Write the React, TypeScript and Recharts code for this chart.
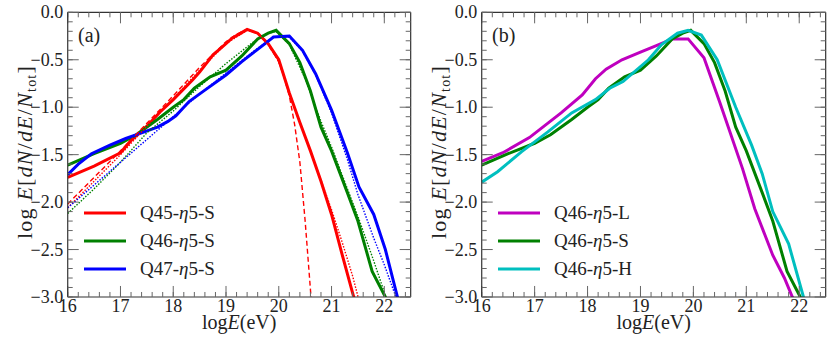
import React from 'react';
import { LineChart, Line, XAxis, YAxis, Legend } from 'recharts';

type Pt = [number, number];

// ---- tick values ----
const xMajorTicks = [16, 17, 18, 19, 20, 21, 22];
const xMinorTicks = [16, 16.2, 16.4, 16.6, 16.8, 17, 17.2, 17.4, 17.6, 17.8, 18, 18.2, 18.4, 18.6, 18.8, 19, 19.2, 19.4, 19.6, 19.8, 20, 20.2, 20.4, 20.6, 20.8, 21, 21.2, 21.4, 21.6, 21.8, 22, 22.2, 22.4];
const yMajorTicks = [0, -0.5, -1, -1.5, -2, -2.5, -3];
const yMinorTicks = [0, -0.1, -0.2, -0.3, -0.4, -0.5, -0.6, -0.7, -0.8, -0.9, -1, -1.1, -1.2, -1.3, -1.4, -1.5, -1.6, -1.7, -1.8, -1.9, -2, -2.1, -2.2, -2.3, -2.4, -2.5, -2.6, -2.7, -2.8, -2.9, -3];

// ---- panel (a) series ----
const q45S: Pt[] = [[16, -1.74], [16.5, -1.62], [17, -1.48], [17.2, -1.35], [17.5, -1.2], [17.75, -1.05], [18, -0.92], [18.37, -0.71], [18.5, -0.63], [18.75, -0.45], [19, -0.33], [19.12, -0.27], [19.25, -0.23], [19.4, -0.18], [19.6, -0.22], [19.8, -0.33], [20, -0.5], [20.2, -0.85], [20.4, -1.16], [20.6, -1.46], [20.8, -1.78], [21, -2.13], [21.2, -2.55], [21.4, -2.96], [21.5, -3.15]];
const q45Dash: Pt[] = [[16, -2.02], [16.5, -1.74], [17, -1.46], [17.5, -1.17], [18, -0.88], [18.5, -0.58], [19, -0.31], [19.2, -0.23], [19.4, -0.18], [19.6, -0.22], [19.8, -0.34], [20, -0.52], [20.1, -0.68], [20.2, -0.88], [20.3, -1.18], [20.4, -1.58], [20.5, -2.2], [20.6, -2.92], [20.63, -3.15]];
const q45Dot: Pt[] = [[16, -2.06], [16.5, -1.78], [17, -1.5], [17.5, -1.2], [18, -0.91], [18.5, -0.61], [19, -0.33], [19.4, -0.19], [19.6, -0.22], [19.8, -0.34], [20, -0.52], [20.2, -0.86], [20.6, -1.46], [21, -2.08], [21.2, -2.42], [21.4, -2.78], [21.55, -3.1]];
const q46S: Pt[] = [[16, -1.61], [16.5, -1.49], [17, -1.38], [17.3, -1.29], [17.7, -1.13], [18, -1.0], [18.2, -0.92], [18.4, -0.8], [18.7, -0.68], [19, -0.61], [19.3, -0.46], [19.6, -0.28], [19.8, -0.22], [19.95, -0.19], [20.2, -0.33], [20.4, -0.53], [20.6, -0.83], [20.8, -1.21], [21, -1.46], [21.3, -1.9], [21.5, -2.2], [21.77, -2.73], [22.02, -3.0], [22.1, -3.12]];
const q46Dot: Pt[] = [[16, -2.12], [16.5, -1.86], [17, -1.58], [17.5, -1.27], [18, -1.04], [18.5, -0.78], [19, -0.54], [19.5, -0.32], [19.8, -0.22], [19.95, -0.2], [20.2, -0.34], [20.5, -0.7], [20.8, -1.15], [21, -1.42], [21.3, -1.86], [21.5, -2.15], [21.8, -2.62], [22, -2.95], [22.05, -3.1]];
const q47S: Pt[] = [[16, -1.71], [16.2, -1.6], [16.45, -1.49], [16.8, -1.4], [17.1, -1.33], [17.4, -1.27], [17.7, -1.21], [17.9, -1.15], [18.05, -1.09], [18.3, -0.94], [18.6, -0.82], [19, -0.66], [19.3, -0.52], [19.6, -0.39], [19.9, -0.26], [20.2, -0.25], [20.45, -0.4], [20.7, -0.65], [21, -1.03], [21.3, -1.48], [21.52, -1.84], [21.8, -2.13], [22.02, -2.5], [22.24, -2.98], [22.3, -3.1]];
const q47Dot: Pt[] = [[16, -2.06], [16.5, -1.82], [17, -1.58], [17.5, -1.34], [18, -1.1], [18.5, -0.86], [19, -0.64], [19.5, -0.42], [19.9, -0.26], [20.2, -0.26], [20.45, -0.41], [20.7, -0.66], [21, -1.06], [21.3, -1.55], [21.5, -1.92], [21.8, -2.38], [22, -2.66], [22.22, -3.0], [22.28, -3.1]];

// ---- panel (b) series ----
const q46L: Pt[] = [[16, -1.57], [16.4, -1.48], [16.9, -1.32], [17.5, -1.06], [17.9, -0.87], [18.15, -0.7], [18.35, -0.6], [18.65, -0.5], [19, -0.42], [19.3, -0.35], [19.6, -0.28], [19.9, -0.28], [20.2, -0.48], [20.5, -0.95], [20.93, -1.65], [21.16, -2.07], [21.5, -2.56], [21.72, -2.8], [21.87, -3.0], [21.95, -3.1]];
const q46H: Pt[] = [[16, -1.79], [16.3, -1.68], [16.75, -1.47], [17.25, -1.26], [17.7, -1.06], [18.15, -0.92], [18.42, -0.8], [18.67, -0.73], [19.15, -0.5], [19.4, -0.34], [19.7, -0.22], [19.9, -0.19], [20.15, -0.24], [20.45, -0.5], [20.8, -1.0], [21.1, -1.4], [21.3, -1.7], [21.5, -2.1], [21.8, -2.44], [22.08, -3.0], [22.15, -3.12]];

const FONT = 'Liberation Serif';
const TXT = '#222';

type Series = { name: string; data: Pt[]; color: string; width: number; dash?: string; legend: boolean };

const seriesA: Series[] = [
  { name: 'Q45-η5-S', data: q45S, color: '#ff0000', width: 3, legend: true },
  { name: 'Q46-η5-S', data: q46S, color: '#008000', width: 3, legend: true },
  { name: 'Q47-η5-S', data: q47S, color: '#0000ff', width: 3, legend: true },
  { name: 'Q45 fit a', data: q45Dash, color: '#ff0000', width: 1.4, dash: '5 3', legend: false },
  { name: 'Q45 fit b', data: q45Dot, color: '#ff0000', width: 1.4, dash: '1.5 1.5', legend: false },
  { name: 'Q46 fit', data: q46Dot, color: '#008000', width: 1.4, dash: '1.5 1.5', legend: false },
  { name: 'Q47 fit', data: q47Dot, color: '#0000ff', width: 1.4, dash: '1.5 1.5', legend: false },
];

const seriesB: Series[] = [
  { name: 'Q46-η5-L', data: q46L, color: '#bf00bf', width: 3, legend: true },
  { name: 'Q46-η5-S', data: q46S, color: '#008000', width: 3, legend: true },
  { name: 'Q46-η5-H', data: q46H, color: '#00bfbf', width: 3, legend: true },
];

const toRows = (d: Pt[]) => d.map(([x, y]) => ({ x, y }));

const nameNode = (name: string) => {
  const parts = name.split('η');
  if (parts.length < 2) return name;
  return (
    <>
      {parts[0]}
      <i>η</i>
      {parts[1]}
    </>
  );
};

const fmtY = (v: number) => (Math.abs(v) < 1e-9 ? '0.0' : '\u2212' + Math.abs(v).toFixed(1));

const BottomTick = (p: any) => (
  <text x={p.x} y={p.y + 15} textAnchor="middle" fontSize={18} fontFamily={FONT} fill={TXT}>
    {String(p.payload.value)}
  </text>
);
const LeftTick = (p: any) => (
  <text x={p.x - 4.5} y={p.y + 6} textAnchor="end" fontSize={18} fontFamily={FONT} fill={TXT}>
    {fmtY(Number(p.payload.value))}
  </text>
);
const NoTick = () => <g />;

const frame = { stroke: '#333', strokeWidth: 1.2 };
const tickLn = { stroke: '#666', strokeWidth: 1 };
const AX = 0.01;

const makeLegend = (series: Series[]) => (props: any) => {
  const order = series.filter((s) => s.legend).map((s) => s.name);
  const payload = (props.payload || [])
    .filter((it: any) => it.type !== 'none' && order.indexOf(String(it.value)) >= 0)
    .sort((a: any, b: any) => order.indexOf(String(a.value)) - order.indexOf(String(b.value)));
  return (
    <div style={{ fontFamily: FONT, fontSize: 19, color: TXT }}>
      {payload.map((it: any, i: number) => (
        <div key={i} style={{ display: 'flex', alignItems: 'center', height: 27.7 }}>
          <svg width={56} height={6} style={{ display: 'block' }}>
            <line x1={0} x2={42} y1={3} y2={3} stroke={it.color} strokeWidth={3} />
          </svg>
          <span style={{ lineHeight: '22px', whiteSpace: 'nowrap', fontFamily: FONT }}>{nameNode(String(it.value))}</span>
        </div>
      ))}
    </div>
  );
};

const Panel = ({ series, label, rightMargin }: { series: Series[]; label: string; rightMargin: number }) => {
  const left = 67.7;
  const top = 12.3;
  const plotW = 415 - left - rightMargin;
  const cx = left + plotW / 2;
  return (
    <LineChart width={415} height={344} margin={{ top, right: rightMargin, bottom: 47, left }} style={{ fontFamily: FONT }}>
      <XAxis xAxisId="b" type="number" dataKey="x" domain={[16, 22.5]} allowDataOverflow ticks={xMajorTicks} interval={0}
        height={AX} tickSize={-11} tickMargin={11} axisLine={frame} tickLine={tickLn} tick={BottomTick} />
      <XAxis xAxisId="bm" type="number" dataKey="x" domain={[16, 22.5]} allowDataOverflow ticks={xMinorTicks} interval={0}
        height={AX} tickSize={-5} axisLine={false} tickLine={tickLn} tick={NoTick} />
      <XAxis xAxisId="t" orientation="top" type="number" dataKey="x" domain={[16, 22.5]} allowDataOverflow ticks={xMajorTicks} interval={0}
        height={AX} tickSize={-11} axisLine={frame} tickLine={tickLn} tick={NoTick} />
      <XAxis xAxisId="tm" orientation="top" type="number" dataKey="x" domain={[16, 22.5]} allowDataOverflow ticks={xMinorTicks} interval={0}
        height={AX} tickSize={-5} axisLine={false} tickLine={tickLn} tick={NoTick} />
      <YAxis yAxisId="l" type="number" domain={[-3, 0]} allowDataOverflow ticks={yMajorTicks} interval={0}
        width={AX} tickSize={-11} tickMargin={11} axisLine={frame} tickLine={tickLn} tick={LeftTick} />
      <YAxis yAxisId="lm" type="number" domain={[-3, 0]} allowDataOverflow ticks={yMinorTicks} interval={0}
        width={AX} tickSize={-5} axisLine={false} tickLine={tickLn} tick={NoTick} />
      <YAxis yAxisId="r" orientation="right" type="number" domain={[-3, 0]} allowDataOverflow ticks={yMajorTicks} interval={0}
        width={AX} tickSize={-11} axisLine={frame} tickLine={tickLn} tick={NoTick} />
      <YAxis yAxisId="rm" orientation="right" type="number" domain={[-3, 0]} allowDataOverflow ticks={yMinorTicks} interval={0}
        width={AX} tickSize={-5} axisLine={false} tickLine={tickLn} tick={NoTick} />
      {series.map((s, i) => (
        <Line key={i} xAxisId="b" yAxisId="l" data={toRows(s.data)} dataKey="y" name={s.name} type="linear"
          stroke={s.color} strokeWidth={s.width} strokeDasharray={s.dash} dot={false} activeDot={false}
          isAnimationActive={false} legendType={s.legend ? 'line' : 'none'} />
      ))}
      <Legend layout="vertical" align="center" verticalAlign="middle" content={makeLegend(series)}
        wrapperStyle={{ left: 84, top: 199.5, width: 'auto', height: 'auto' }} />
      <text x={78} y={42} fontSize={20} fontFamily={FONT} fill={TXT}>{label}</text>
      <text x={cx} y={329} textAnchor="middle" fontSize={20} fontFamily={FONT} fill={TXT}>
        log<tspan fontStyle="italic">E</tspan>(eV)
      </text>
      <text x={32} y={152} textAnchor="middle" fontSize={22} fontFamily={FONT} fill={TXT}
        transform="rotate(-90 32 152)" letterSpacing={1.2}>
        log <tspan fontStyle="italic">E</tspan>[<tspan fontStyle="italic">dN</tspan>/<tspan fontStyle="italic">dE</tspan>/<tspan fontStyle="italic">N</tspan><tspan fontSize={14} dy={4}>tot</tspan><tspan dy={-4}>]</tspan>
      </text>
    </LineChart>
  );
};

export default function App() {
  return (
    <div style={{ position: 'absolute', left: 0, top: 0, width: 830, height: 344, background: '#fff', fontFamily: FONT }}>
      <div style={{ position: 'absolute', left: 0, top: 0 }}>
        <Panel series={seriesA} label="(a)" rightMargin={4.3} />
      </div>
      <div style={{ position: 'absolute', left: 414, top: 0 }}>
        <Panel series={seriesB} label="(b)" rightMargin={3.3} />
      </div>
    </div>
  );
}
